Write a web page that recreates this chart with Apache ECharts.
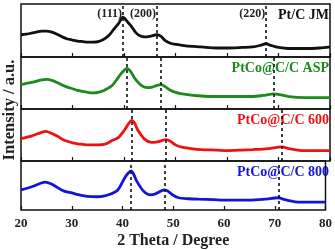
<!DOCTYPE html>
<html>
<head>
<meta charset="utf-8">
<script src="https://cdn.jsdelivr.net/npm/echarts@6/dist/echarts.min.js"></script>
<style>
  html, body { margin: 0; padding: 0; background: #fff; }
  #chart { width: 335px; height: 250px; }
</style>
</head>
<body>
<div id="chart"></div>
<script>
// XRD patterns, intensity in arbitrary units (0-100 per panel)
const xTicks = [20, 30, 40, 50, 60, 70, 80];
const hklLabels = ['(111)', '(200)', '(220)'];

const jmTheta = [20, 21, 22, 23, 24, 25, 26, 27, 28, 29, 30, 31, 32, 33, 34, 35, 36, 37, 38, 39, 39.8, 40.7, 41.5, 42.3, 43.1, 44, 45, 46.4, 47.2, 48, 49, 50, 52, 55, 58, 60, 63, 65, 66.5, 67.6, 68.5, 70, 72, 75, 78, 80];
const jmInt = [42, 43, 45, 47, 49, 49, 47, 43, 38, 34, 32, 30, 29, 28, 28, 29, 33, 40, 52, 64, 75, 66, 57, 46, 40, 38, 39, 42, 39, 31, 26, 24, 21, 19, 17, 17, 18, 19, 22, 25, 22, 18, 16, 16, 17, 19];
const jmPeaks = [39.8, 46.4, 67.6];

const aspTheta = [20, 22, 24, 25, 26, 27, 28, 29, 30, 31, 32, 33, 34, 35, 36, 36.5, 37.7, 38.9, 39.8, 40.6, 41.3, 42.1, 43.4, 44.6, 45.5, 46.3, 47.2, 48, 49, 50, 52, 55, 58, 62, 65, 67, 69.1, 70.5, 72, 75, 80];
const aspInt = [47, 51, 56, 57, 55, 51, 46, 42, 39, 36, 34, 32, 31, 32, 35, 38, 45, 61, 72, 78, 72, 59, 45, 41, 42, 45, 47, 43, 36, 32, 28, 25, 24, 24, 24, 26, 29, 27, 24, 22, 22];
const aspPeaks = [40.6, 47.2, 69.1];

const t600Theta = [20, 22, 24, 24.8, 26, 27, 28, 29, 30, 31, 32, 33, 35, 36.5, 37.6, 38.9, 40.2, 40.9, 41.5, 42.1, 42.7, 44, 45.3, 46.5, 48.2, 49, 50, 51, 53, 55, 58, 60, 63, 65, 68, 70.7, 72, 75, 80];
const t600Int = [43, 48, 55, 57, 53, 48, 42, 38, 35, 33, 32, 31, 31, 33, 39, 45, 61, 72, 78, 72, 59, 42, 36, 37, 41, 38, 31, 27, 24, 22, 21, 20, 21, 22, 24, 27, 24, 20, 20];
const t600Peaks = [41.5, 48.2, 70.7];

const t800Theta = [20, 22, 24, 24.8, 26, 27, 28, 29, 30, 31, 32, 33, 35, 36.5, 37.8, 39.1, 40.4, 41.1, 41.7, 42.2, 42.8, 44.1, 45.4, 46.5, 48.3, 49, 50, 51, 53, 55, 58, 60, 63, 65, 68, 70.7, 72, 75, 80];
const t800Int = [41, 47, 55, 57, 53, 47, 41, 37, 35, 32, 30, 28, 27, 29, 33, 41, 65, 75, 80, 73, 59, 39, 31, 33, 41, 38, 30, 25, 23, 22, 21, 20, 20, 20, 22, 25, 21, 16, 16];
const t800Peaks = [41.7, 48.3, 70.7];

const names = ['Pt/C JM', 'PtCo@C/C ASP', 'PtCo@C/C 600', 'PtCo@C/C 800'];
const colors = ['#111111', '#1c8a1c', '#ee1111', '#1414d6'];
const thetas = [jmTheta, aspTheta, t600Theta, t800Theta];
const ints = [jmInt, aspInt, t600Int, t800Int];
const peaks = [jmPeaks, aspPeaks, t600Peaks, t800Peaks];

const tops = [4, 57, 109, 161];
const heights = [53, 52, 52, 52];
const serif = '"Liberation Serif", "DejaVu Serif", serif';

const chart = echarts.init(document.getElementById('chart'));

const option = {
  animation: false,
  grid: tops.map((t, i) => ({
    left: 21, right: 5, top: t, height: heights[i],
    show: true, borderColor: '#111', borderWidth: 1.5, backgroundColor: 'transparent'
  })),
  xAxis: tops.map((t, i) => ({
    gridIndex: i, type: 'value', min: xTicks[0], max: xTicks[xTicks.length - 1], interval: 10,
    axisLine: { show: false },
    axisTick: { show: true, inside: true, length: 4, lineStyle: { color: '#111', width: 1.2 } },
    splitLine: { show: false },
    axisLabel: {
      show: i === 3, margin: 7, color: '#222',
      fontFamily: serif, fontWeight: 'bold', fontSize: 13,
      showMinLabel: true, showMaxLabel: true
    },
    name: i === 3 ? '2 Theta / Degree' : '',
    nameLocation: 'middle', nameGap: 23,
    nameTextStyle: { fontFamily: serif, fontWeight: 'bold', fontSize: 16, color: '#222' }
  })),
  yAxis: tops.map((t, i) => ({ gridIndex: i, type: 'value', min: 0, max: 100, show: false })),
  series: names.map((n, i) => ({
    name: n, type: 'line', xAxisIndex: i, yAxisIndex: i,
    symbol: 'none', smooth: 0.3,
    lineStyle: { color: colors[i], width: 2.8 },
    data: thetas[i].map((x, k) => [x, ints[i][k]]),
    markLine: {
      silent: true, symbol: ['none', 'none'], label: { show: false },
      lineStyle: { color: '#111', type: [3, 3], width: 1.6 },
      data: peaks[i].map(p => ({ xAxis: p }))
    }
  }))
};
chart.setOption(option);

// annotation texts
const graphics = [];
jmPeaks.forEach((p, k) => {
  const px = chart.convertToPixel({ gridIndex: 0 }, [p, 0])[0];
  graphics.push({
    type: 'text', x: px - 1, y: tops[0] + 10,
    style: { text: hklLabels[k], fill: '#222', font: 'bold 12px ' + serif, textAlign: 'right', textVerticalAlign: 'middle' }
  });
});
names.forEach((n, i) => {
  graphics.push({
    type: 'text', x: 329, y: tops[i] + 11.5,
    style: { text: n, fill: colors[i], font: 'bold 14px ' + serif, textAlign: 'right', textVerticalAlign: 'middle' }
  });
});
graphics.push({
  type: 'text', x: 10, y: 110, rotation: Math.PI / 2,
  style: { text: 'Intensity / a.u.', fill: '#222', font: 'bold 16.5px ' + serif, textAlign: 'center', textVerticalAlign: 'middle' }
});
chart.setOption({ graphic: graphics });
</script>
</body>
</html>
